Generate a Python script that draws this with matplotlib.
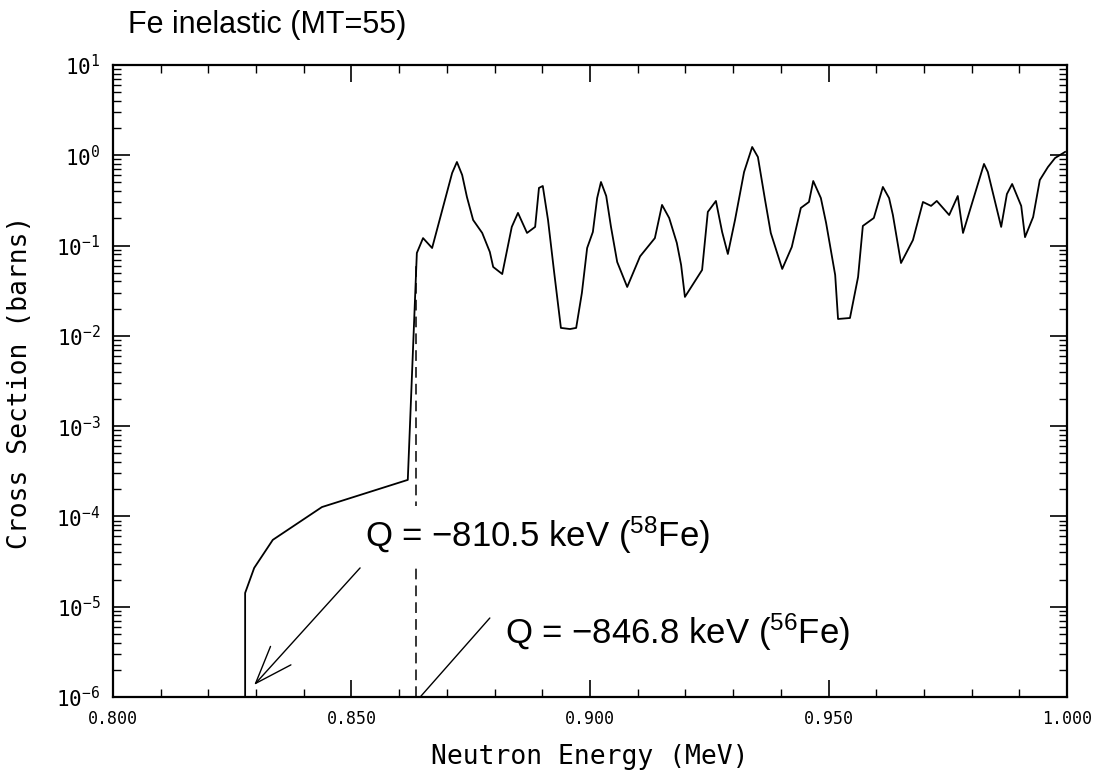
import numpy as np
import matplotlib
matplotlib.use('Agg')
import matplotlib.pyplot as plt
from matplotlib.ticker import FixedLocator, MultipleLocator, LogLocator, NullFormatter

# 曲线数据
energy = [0.800, 0.8277, 0.8277, 0.8296, 0.8335, 0.8438, 0.8618, 0.8637,
          0.8650, 0.8669, 0.8711, 0.8721, 0.8732, 0.8742, 0.8755, 0.8774,
          0.8790, 0.8797, 0.8816, 0.8836, 0.8849, 0.8868, 0.8885, 0.8893,
          0.8901, 0.8912, 0.8925, 0.8939, 0.8958, 0.8971, 0.8983, 0.8994,
          0.9006, 0.9015, 0.9023, 0.9034, 0.9044, 0.9057, 0.9078, 0.9105,
          0.9136, 0.9151, 0.9166, 0.9182, 0.9191, 0.9199, 0.9235, 0.9247,
          0.9264, 0.9277, 0.9289, 0.9304, 0.9323, 0.9340, 0.9352, 0.9367,
          0.9379, 0.9403, 0.9423, 0.9442, 0.9459, 0.9468, 0.9484, 0.9495,
          0.9514, 0.9520, 0.9545, 0.9562, 0.9572, 0.9595, 0.9606, 0.9614,
          0.9627, 0.9635, 0.9652, 0.9677, 0.9698, 0.9715, 0.9727, 0.9753,
          0.9771, 0.9782, 0.9803, 0.9826, 0.9834, 0.9862, 0.9874, 0.9885,
          0.9904, 0.9912, 0.9929, 0.9943, 0.9960, 0.9975, 0.9996]
xsec = [1e-6, 1e-6, 1.42e-5, 2.69e-5, 5.50e-5, 1.27e-4, 2.54e-4, 0.0828,
        0.121, 0.094, 0.637, 0.843, 0.605, 0.345, 0.192, 0.138,
        0.085, 0.058, 0.0484, 0.161, 0.230, 0.138, 0.161, 0.435,
        0.457, 0.192, 0.0498, 0.01225, 0.0119, 0.01225, 0.0299, 0.094,
        0.1415, 0.336, 0.506, 0.354, 0.161, 0.0658, 0.0348, 0.0760,
        0.121, 0.282, 0.202, 0.107, 0.061, 0.027, 0.0537, 0.236,
        0.312, 0.1415, 0.0807, 0.192, 0.653, 1.236, 0.957, 0.320,
        0.138, 0.0551, 0.0964, 0.261, 0.304, 0.519, 0.336, 0.178,
        0.0472, 0.01538, 0.01577, 0.0449, 0.165, 0.202, 0.320, 0.446,
        0.336, 0.218, 0.0641, 0.115, 0.304, 0.275, 0.312, 0.218,
        0.354, 0.138, 0.320, 0.802, 0.653, 0.161, 0.372, 0.481,
        0.275, 0.124, 0.207, 0.532, 0.741, 0.933, 1.09]

# 阈值能量 (MeV)
threshold_56 = 0.8635
x_ticks = [0.800, 0.850, 0.900, 0.950, 1.000]
x_tick_labels = ['0.800', '0.850', '0.900', '0.950', '1.000']
y_ticks = [1e-6, 1e-5, 1e-4, 1e-3, 1e-2, 1e-1, 1e0, 1e1]
y_tick_labels = ['10$^{-6}$', '10$^{-5}$', '10$^{-4}$', '10$^{-3}$',
                 '10$^{-2}$', '10$^{-1}$', '10$^{0}$', '10$^{1}$']

plt.rcParams['mathtext.default'] = 'regular'
mono = 'DejaVu Sans Mono'
sans = 'Liberation Sans'

fig = plt.figure(figsize=(10.93, 7.73), dpi=100)
ax = fig.add_axes([113 / 1093, 1 - 697 / 773, 954 / 1093, 632 / 773])

ax.plot(energy, xsec, color='black', lw=1.3)
ax.vlines(threshold_56, 1e-6, 0.06, colors='black', linestyles=(0, (7, 4)), lw=1.1)

ax.set_yscale('log')
ax.set_xlim(0.8, 1.0)
ax.set_ylim(1e-6, 1e1)

ax.xaxis.set_major_locator(FixedLocator(x_ticks))
ax.xaxis.set_minor_locator(MultipleLocator(0.01))
ax.set_xticklabels(x_tick_labels, family=mono, fontsize=12)
ax.yaxis.set_major_locator(FixedLocator(y_ticks))
ax.yaxis.set_minor_locator(LogLocator(base=10, subs=np.arange(2, 10), numticks=20))
ax.yaxis.set_minor_formatter(NullFormatter())
ax.set_yticklabels(y_tick_labels, family=mono, fontsize=15)

ax.tick_params(which='both', direction='in', top=True, right=True, color='black')
ax.tick_params(which='major', length=12, width=1.2, pad=9)
ax.tick_params(which='minor', length=6, width=1.0)
for s in ax.spines.values():
    s.set_linewidth(1.6)

# 注释
ax.text(0.8528, 6.2e-5, 'Q = \u2212810.5 keV ($^{58}$Fe)', family=sans, fontsize=25,
        va='center', ha='left',
        bbox=dict(facecolor='white', edgecolor='none', pad=6))
ax.annotate('', xy=(0.8296, 1.36e-6), xytext=(0.8518, 2.69e-5),
            arrowprops=dict(arrowstyle='->,head_length=1.5,head_width=0.55',
                            color='black', lw=1.0, shrinkA=0, shrinkB=0,
                            mutation_scale=18))
ax.text(0.8822, 5.26e-6, 'Q = \u2212846.8 keV ($^{56}$Fe)', family=sans, fontsize=25,
        va='center', ha='left')
ax.annotate('', xy=(0.8644, 1e-6), xytext=(0.8790, 7.5e-6),
            arrowprops=dict(arrowstyle='-', color='black', lw=1.0,
                            shrinkA=0, shrinkB=0))

fig.text(128 / 1093, 1 - 25 / 773, 'Fe inelastic (MT=55)', family=sans,
         fontsize=22, va='center', ha='left')
fig.text(590 / 1093, 1 - 757 / 773, 'Neutron Energy (MeV)', family=mono,
         fontsize=19, va='center', ha='center')
fig.text(20 / 1093, 1 - 382 / 773, 'Cross Section (barns)', family=mono,
         fontsize=19, va='center', ha='center', rotation=90)

fig.savefig('out.png', dpi=100, facecolor='white')
